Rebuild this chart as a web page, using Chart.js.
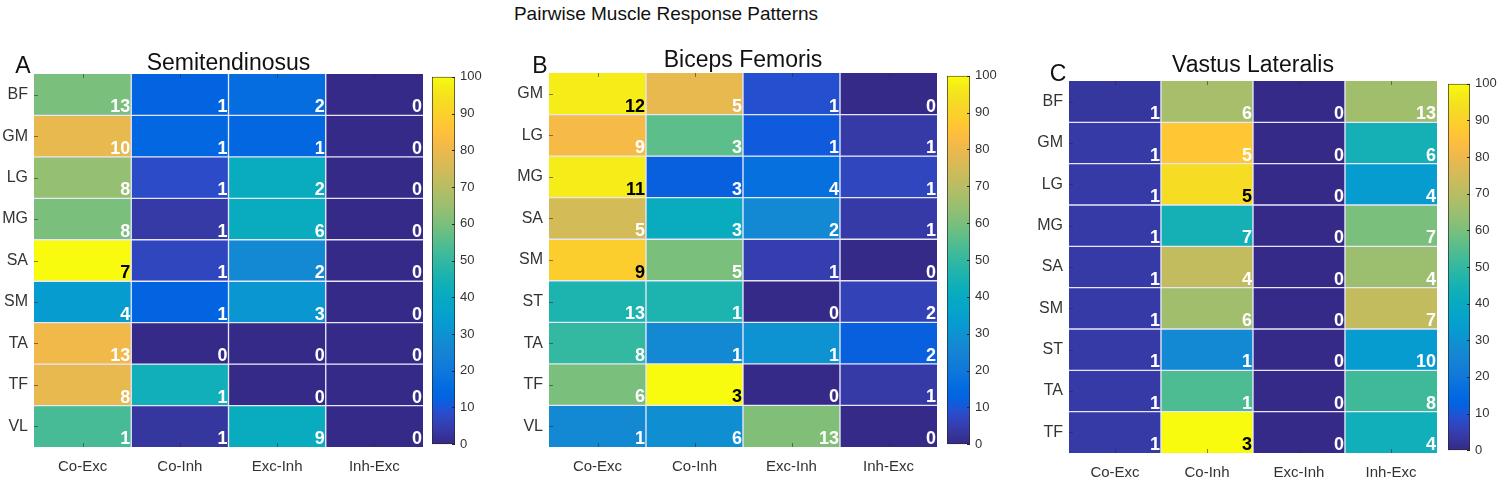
<!DOCTYPE html>
<html>
<head>
<meta charset="utf-8">
<script src="https://cdn.jsdelivr.net/npm/chart.js@4.4.0/dist/chart.umd.min.js"></script>
<style>
  body { margin: 0; background: #fff; width: 1500px; height: 481px; position: relative; overflow: hidden;
         font-family: 'Liberation Sans', Arial, sans-serif; }
  .box { position: absolute; }
  #mainTitle { position: absolute; left: 466px; top: 4px; width: 400px; text-align: center;
               font-size: 19px; line-height: 20px; color: #111; }
</style>
</head>
<body>
<div id="mainTitle">Pairwise Muscle Response Patterns</div>
<script>
// Columns shared by all three panels
const columns = ['Co-Exc', 'Co-Inh', 'Exc-Inh', 'Inh-Exc'];
const colorbarTicks = [0, 10, 20, 30, 40, 50, 60, 70, 80, 90, 100];

// Panel A - Semitendinosus
const rowsA = ['BF', 'GM', 'LG', 'MG', 'SA', 'SM', 'TA', 'TF', 'VL'];
const countsA = [[13, 1, 2, 0], [10, 1, 1, 0], [8, 1, 2, 0], [8, 1, 6, 0], [7, 1, 2, 0],
                 [4, 1, 3, 0], [13, 0, 0, 0], [8, 1, 0, 0], [1, 1, 9, 0]];
const valuesA = [[60, 13, 16, 0], [79, 14, 14, 0], [64, 8, 41, 0], [60, 4, 41, 0], [100, 7, 27, 0],
                 [33, 13, 31, 0], [81, 0, 0, 0], [79, 43, 0, 0], [53, 3, 41, 0]];

// Panel B - Biceps Femoris
const rowsB = ['GM', 'LG', 'MG', 'SA', 'SM', 'ST', 'TA', 'TF', 'VL'];
const countsB = [[12, 5, 1, 0], [9, 3, 1, 1], [11, 3, 4, 1], [5, 3, 2, 1], [9, 5, 1, 0],
                 [13, 1, 0, 2], [8, 1, 1, 2], [6, 3, 0, 1], [1, 6, 13, 0]];
const valuesB = [[97, 79, 9, 0], [82, 56, 11, 4], [97, 12, 17, 7], [75, 41, 27, 4], [89, 60, 5, 0],
                 [46, 46, 0, 6], [50, 27, 30, 12], [60, 100, 0, 4], [27, 29, 61, 0]];

// Panel C - Vastus Lateralis
const rowsC = ['BF', 'GM', 'LG', 'MG', 'SA', 'SM', 'ST', 'TA', 'TF'];
const countsC = [[1, 6, 0, 13], [1, 5, 0, 6], [1, 5, 0, 4], [1, 7, 0, 7], [1, 4, 0, 4],
                 [1, 6, 0, 7], [1, 1, 0, 10], [1, 1, 0, 8], [1, 3, 0, 4]];
const valuesC = [[3, 67, 0, 66], [4, 87, 0, 44], [4, 93, 0, 33], [4, 44, 0, 60], [4, 72, 0, 65],
                 [4, 66, 0, 72], [4, 27, 0, 33], [4, 54, 0, 52], [4, 100, 0, 43]];

// MATLAB parula colormap (64 steps)
const PARULA = [
  [0.2081,0.1663,0.5292],[0.2116,0.1898,0.5777],[0.2123,0.2138,0.6270],[0.2081,0.2386,0.6771],
  [0.1959,0.2645,0.7279],[0.1707,0.2919,0.7792],[0.1253,0.3242,0.8303],[0.0591,0.3598,0.8683],
  [0.0117,0.3875,0.8820],[0.0060,0.4086,0.8828],[0.0165,0.4266,0.8786],[0.0329,0.4430,0.8720],
  [0.0498,0.4586,0.8641],[0.0629,0.4737,0.8554],[0.0723,0.4887,0.8467],[0.0779,0.5040,0.8384],
  [0.0793,0.5200,0.8312],[0.0749,0.5375,0.8263],[0.0641,0.5570,0.8240],[0.0488,0.5772,0.8228],
  [0.0343,0.5966,0.8199],[0.0265,0.6137,0.8135],[0.0239,0.6287,0.8038],[0.0231,0.6418,0.7913],
  [0.0228,0.6535,0.7768],[0.0267,0.6642,0.7607],[0.0384,0.6743,0.7436],[0.0590,0.6838,0.7254],
  [0.0843,0.6928,0.7062],[0.1133,0.7015,0.6859],[0.1453,0.7098,0.6646],[0.1801,0.7177,0.6424],
  [0.2178,0.7250,0.6193],[0.2586,0.7317,0.5954],[0.3022,0.7376,0.5712],[0.3482,0.7424,0.5473],
  [0.3953,0.7459,0.5244],[0.4420,0.7481,0.5033],[0.4871,0.7491,0.4840],[0.5300,0.7491,0.4661],
  [0.5709,0.7485,0.4494],[0.6099,0.7473,0.4337],[0.6473,0.7456,0.4188],[0.6834,0.7435,0.4044],
  [0.7184,0.7411,0.3905],[0.7525,0.7384,0.3768],[0.7858,0.7356,0.3633],[0.8185,0.7327,0.3498],
  [0.8507,0.7299,0.3360],[0.8824,0.7274,0.3217],[0.9139,0.7258,0.3063],[0.9450,0.7261,0.2886],
  [0.9739,0.7314,0.2666],[0.9938,0.7455,0.2403],[0.9990,0.7653,0.2164],[0.9955,0.7861,0.1967],
  [0.9880,0.8066,0.1794],[0.9789,0.8271,0.1633],[0.9697,0.8481,0.1475],[0.9626,0.8705,0.1309],
  [0.9589,0.8949,0.1132],[0.9598,0.9218,0.0948],[0.9661,0.9514,0.0755],[0.9763,0.9831,0.0538]
];

const toRgb = (c) => `rgb(${Math.round(c[0] * 255)}, ${Math.round(c[1] * 255)}, ${Math.round(c[2] * 255)})`;

// Map 0..100 to a parula colour (interpolated)
const parulaColor = (v) => {
  const t = Math.max(0, Math.min(1, v / 100)) * (PARULA.length - 1);
  const i = Math.floor(t);
  const j = Math.min(i + 1, PARULA.length - 1);
  const f = t - i;
  return toRgb(PARULA[i].map((c, k) => c + (PARULA[j][k] - c) * f));
};

const FONT = "'Liberation Sans', Arial, sans-serif";
const AXIS_COLOR = '#333333';
const GRID_LINE = 'rgba(232, 230, 250, 1)';

// Count labels in the bottom-right corner of every cell
const cellLabels = {
  id: 'cellLabels',
  afterDatasetsDraw(chart, args, opts) {
    const { ctx } = chart;
    ctx.save();
    ctx.font = `bold 18px ${FONT}`;
    ctx.textAlign = 'right';
    ctx.textBaseline = 'alphabetic';
    chart.data.datasets.forEach((ds, i) => {
      chart.getDatasetMeta(i).data.forEach((bar, j) => {
        const { x, y, base, width } = bar.getProps(['x', 'y', 'base', 'width'], true);
        const bottom = Math.max(y, base);
        ctx.fillStyle = opts.values[i][j] >= 88 ? '#000' : '#fff';
        ctx.fillText(String(opts.counts[i][j]), x + width / 2 - 1, bottom - 3);
      });
    });
    ctx.restore();
  }
};

// Small inward tick marks like MATLAB axes
const innerTicks = {
  id: 'innerTicks',
  afterDatasetsDraw(chart) {
    const { ctx, chartArea, scales } = chart;
    ctx.save();
    ctx.strokeStyle = 'rgba(40, 40, 40, 0.55)';
    ctx.lineWidth = 1;
    ctx.beginPath();
    scales.y.ticks.forEach(t => {
      const py = Math.round(scales.y.getPixelForValue(t.value)) + 0.5;
      ctx.moveTo(chartArea.left, py);
      ctx.lineTo(chartArea.left + 4, py);
    });
    scales.x.ticks.forEach((t, i) => {
      const px = Math.round(scales.x.getPixelForTick(i)) + 0.5;
      ctx.moveTo(px, chartArea.top);
      ctx.lineTo(px, chartArea.top + 4);
      ctx.moveTo(px, chartArea.bottom);
      ctx.lineTo(px, chartArea.bottom - 4);
    });
    ctx.stroke();
    ctx.restore();
  }
};

// Panel title and letter
const panelTitle = {
  id: 'panelTitle',
  afterDraw(chart, args, opts) {
    const { ctx, chartArea } = chart;
    ctx.save();
    ctx.fillStyle = '#111';
    ctx.textBaseline = 'alphabetic';
    ctx.font = `23px ${FONT}`;
    ctx.textAlign = 'center';
    ctx.fillText(opts.text, (chartArea.left + chartArea.right) / 2, chartArea.top - opts.titleGap);
    ctx.fillText(opts.letter, chartArea.left - opts.letterDx, chartArea.top - opts.letterGap);
    ctx.restore();
  }
};

const TOP = 44, BOTTOM = 28, RIGHT = 4;

const addCanvas = (left, top, width, height) => {
  const wrap = document.createElement('div');
  wrap.className = 'box';
  wrap.style.left = left + 'px';
  wrap.style.top = top + 'px';
  const canvas = document.createElement('canvas');
  canvas.width = width;
  canvas.height = height;
  canvas.style.width = width + 'px';
  canvas.style.height = height + 'px';
  wrap.appendChild(canvas);
  document.body.appendChild(wrap);
  return canvas;
};

const makeHeatmap = (p) => {
  const nRows = p.rows.length;
  const nCols = columns.length;
  const axisW = Math.min(44, p.plot.x);
  const canvas = addCanvas(p.plot.x - axisW, p.plot.y - TOP, axisW + p.plot.w + RIGHT, TOP + p.plot.h + BOTTOM);

  new Chart(canvas, {
    type: 'bar',
    data: {
      labels: columns,
      datasets: p.rows.map((row, i) => ({
        label: row,
        data: columns.map(() => [i, i + 1]),
        backgroundColor: p.values[i].map(parulaColor),
        borderColor: GRID_LINE,
        borderWidth: (ctx) => ({
          left: ctx.dataIndex > 0 ? 1 : 0,
          right: ctx.dataIndex < nCols - 1 ? 1 : 0,
          top: i > 0 ? 1 : 0,
          bottom: i < nRows - 1 ? 1 : 0
        }),
        borderSkipped: false,
        barPercentage: 1,
        categoryPercentage: 1,
        grouped: false
      }))
    },
    options: {
      responsive: false,
      animation: false,
      layout: { padding: { top: TOP, right: RIGHT, left: 0, bottom: 0 } },
      scales: {
        x: {
          grid: { display: false },
          border: { display: false },
          ticks: { color: AXIS_COLOR, font: { family: FONT, size: 15 }, padding: 3, maxRotation: 0 },
          afterFit: (s) => { s.height = BOTTOM; }
        },
        y: {
          type: 'linear',
          min: 0,
          max: nRows,
          reverse: true,
          grid: { display: false, drawTicks: false },
          border: { display: false },
          afterBuildTicks: (s) => { s.ticks = p.rows.map((_, i) => ({ value: i + 0.5 })); },
          ticks: {
            color: AXIS_COLOR,
            font: { family: FONT, size: 16 },
            padding: 6,
            callback: (v) => p.rows[Math.floor(v)]
          },
          afterFit: (s) => { s.width = axisW; }
        }
      },
      plugins: {
        legend: { display: false },
        tooltip: { enabled: false },
        cellLabels: { values: p.values, counts: p.counts },
        panelTitle: { text: p.title, letter: p.letter, titleGap: p.titleGap, letterGap: p.letterGap, letterDx: p.letterDx }
      }
    },
    plugins: [cellLabels, innerTicks, panelTitle]
  });
};

// Colorbar tick marks drawn inward on the right edge
const colorbarTicksPlugin = {
  id: 'colorbarTicks',
  afterDatasetsDraw(chart) {
    const { ctx, chartArea, scales } = chart;
    ctx.save();
    ctx.strokeStyle = '#262626';
    ctx.lineWidth = 1;
    ctx.beginPath();
    scales.y.ticks.forEach(t => {
      const py = Math.round(scales.y.getPixelForValue(t.value)) + 0.5;
      ctx.moveTo(chartArea.right, py);
      ctx.lineTo(chartArea.right - 3, py);
    });
    ctx.stroke();
    ctx.restore();
  }
};

const makeColorbar = (p) => {
  const CB_AXIS = 36, PAD = 10;
  const canvas = addCanvas(p.bar.x, p.plot.y - PAD, p.bar.w + CB_AXIS, p.plot.h + PAD * 2);

  new Chart(canvas, {
    type: 'bar',
    data: {
      labels: [''],
      datasets: [{
        data: [[0, 100]],
        backgroundColor: (ctx) => {
          const { chartArea } = ctx.chart;
          if (!chartArea) return null;
          const g = ctx.chart.ctx.createLinearGradient(0, chartArea.bottom, 0, chartArea.top);
          PARULA.forEach((c, i) => g.addColorStop(i / (PARULA.length - 1), toRgb(c)));
          return g;
        },
        borderColor: '#262626',
        borderWidth: 1,
        borderSkipped: false,
        barPercentage: 1,
        categoryPercentage: 1
      }]
    },
    options: {
      responsive: false,
      animation: false,
      layout: { padding: { top: PAD, bottom: PAD, left: 0, right: 0 } },
      scales: {
        x: { display: false },
        y: {
          position: 'right',
          min: 0,
          max: 100,
          grid: { display: false, drawTicks: false },
          border: { display: false },
          afterBuildTicks: (s) => { s.ticks = colorbarTicks.map(v => ({ value: v })); },
          ticks: { color: AXIS_COLOR, font: { family: FONT, size: 13 }, padding: 5 },
          afterFit: (s) => { s.width = CB_AXIS; }
        }
      },
      plugins: { legend: { display: false }, tooltip: { enabled: false } }
    },
    plugins: [colorbarTicksPlugin]
  });
};

const panels = [
  { letter: 'A', title: 'Semitendinosus', rows: rowsA, counts: countsA, values: valuesA,
    plot: { x: 34, y: 74, w: 389, h: 373 }, bar: { x: 432, w: 23 }, titleGap: 4, letterGap: 1, letterDx: 11 },
  { letter: 'B', title: 'Biceps Femoris', rows: rowsB, counts: countsB, values: valuesB,
    plot: { x: 549, y: 73, w: 388, h: 374 }, bar: { x: 947, w: 23 }, titleGap: 6, letterGap: 0, letterDx: 9 },
  { letter: 'C', title: 'Vastus Lateralis', rows: rowsC, counts: countsC, values: valuesC,
    plot: { x: 1069, y: 81, w: 368, h: 372 }, bar: { x: 1448, w: 22 }, titleGap: 9, letterGap: 0, letterDx: 11 }
];

panels.forEach(p => {
  makeHeatmap(p);
  makeColorbar(p);
});
</script>
</body>
</html>
